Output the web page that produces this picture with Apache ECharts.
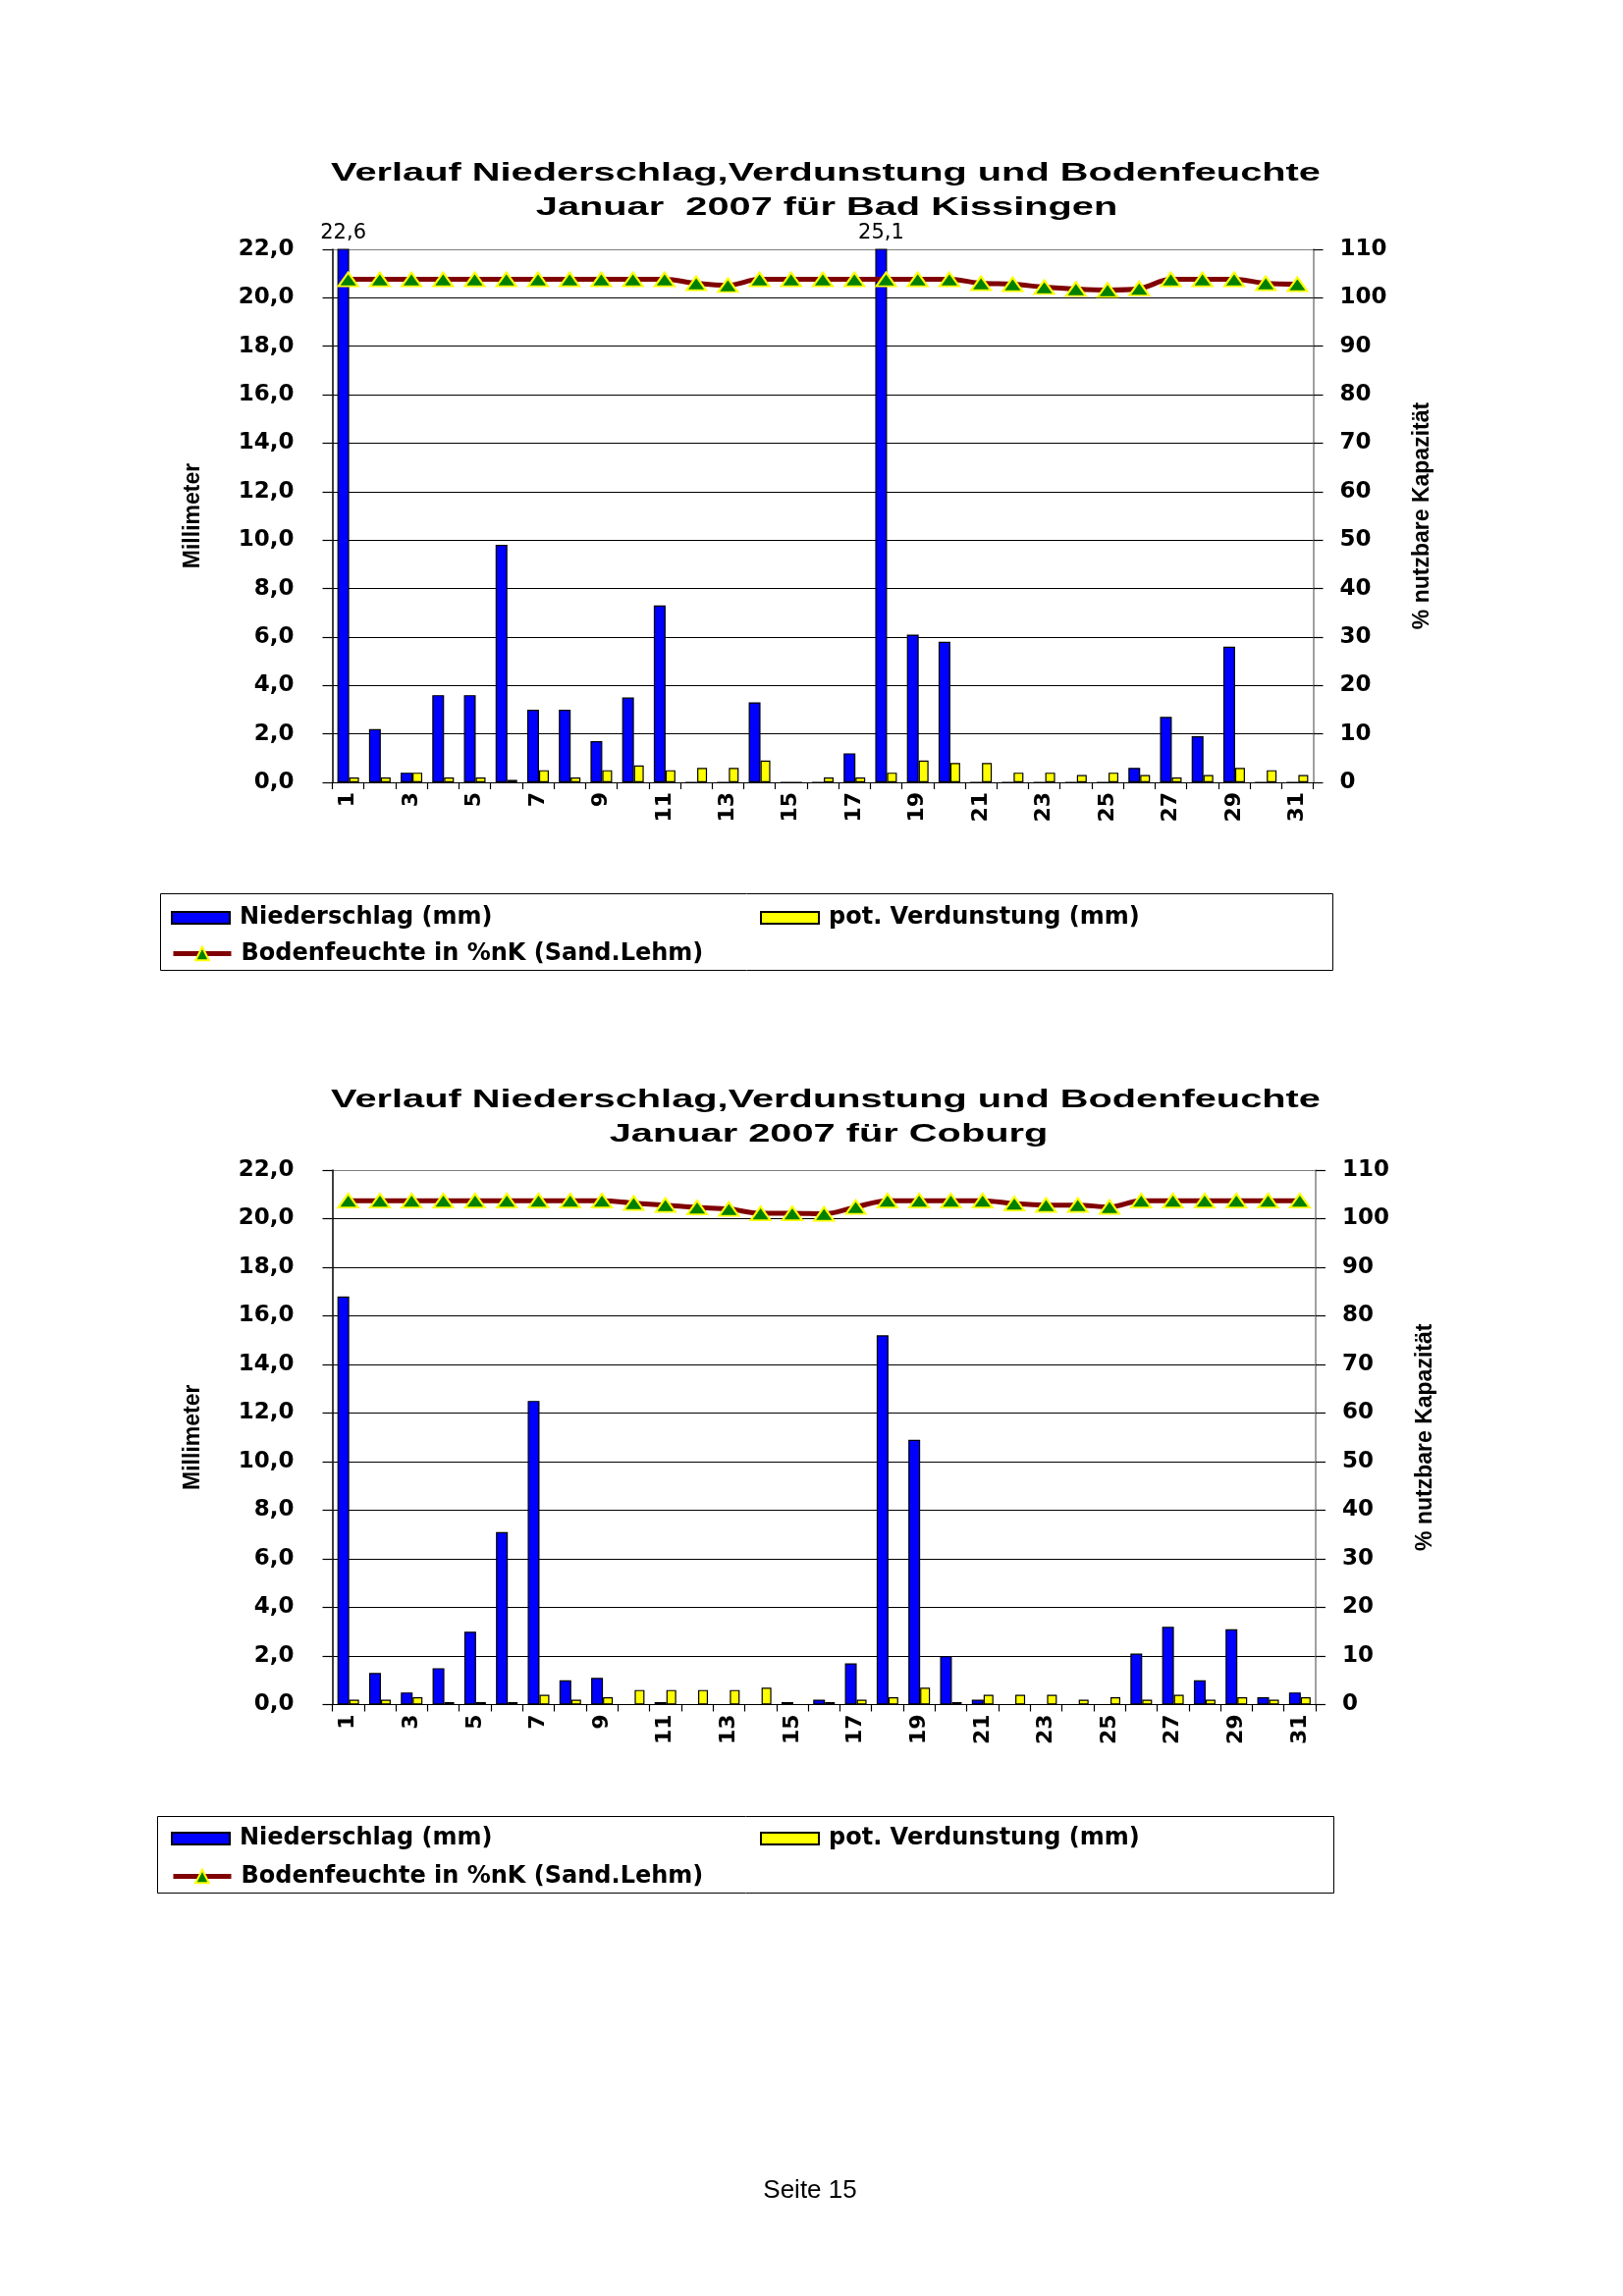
<!DOCTYPE html>
<html>
<head>
<meta charset="utf-8">
<script src="https://cdn.jsdelivr.net/npm/echarts@6/dist/echarts.min.js"></script>
<style>
html,body{margin:0;padding:0;background:#fff;}
#chart{width:1653px;height:2339px;}
</style>
</head>
<body>
<div id="chart"></div>
<script>
// ---- data ----
const days = ['1','2','3','4','5','6','7','8','9','10','11','12','13','14','15','16','17','18','19','20','21','22','23','24','25','26','27','28','29','30','31'];

const kissRain = [22.6,2.2,0.4,3.6,3.6,9.8,3.0,3.0,1.7,3.5,7.3,0,0,3.3,0,0,1.2,25.1,6.1,5.8,0,0,0,0,0,0.6,2.7,1.9,5.6,0,0];
const kissEvap = [0.2,0.2,0.4,0.2,0.2,0.1,0.5,0.2,0.5,0.7,0.5,0.6,0.6,0.9,0,0.2,0.2,0.4,0.9,0.8,0.8,0.4,0.4,0.3,0.4,0.3,0.2,0.3,0.6,0.5,0.3];
const kissSoil = [103.8,103.8,103.8,103.8,103.8,103.8,103.8,103.8,103.8,103.8,103.8,103.0,102.6,103.8,103.8,103.8,103.8,103.8,103.8,103.8,103.0,102.8,102.2,101.8,101.6,101.9,103.8,103.8,103.8,103.0,102.8];

const cobRain = [16.8,1.3,0.5,1.5,3.0,7.1,12.5,1.0,1.1,0,0.1,0,0,0,0.1,0.2,1.7,15.2,10.9,2.0,0.2,0,0,0,0,2.1,3.2,1.0,3.1,0.3,0.5];
const cobEvap = [0.2,0.2,0.3,0.1,0.1,0.1,0.4,0.2,0.3,0.6,0.6,0.6,0.6,0.7,0,0.1,0.2,0.3,0.7,0.1,0.4,0.4,0.4,0.2,0.3,0.2,0.4,0.2,0.3,0.2,0.3];
const cobSoil = [103.7,103.7,103.7,103.7,103.7,103.7,103.7,103.7,103.7,103.2,102.8,102.3,102.0,101.1,101.1,101.0,102.4,103.7,103.7,103.7,103.7,103.1,102.8,102.8,102.4,103.7,103.7,103.7,103.7,103.7,103.7];

const titlesKiss = ['Verlauf Niederschlag,Verdunstung und Bodenfeuchte', 'Januar  2007 für Bad Kissingen'];
const titlesCob  = ['Verlauf Niederschlag,Verdunstung und Bodenfeuchte', 'Januar 2007 für Coburg'];
const seriesNames = ['Niederschlag (mm)', 'pot. Verdunstung (mm)', 'Bodenfeuchte in %nK (Sand.Lehm)'];
const leftAxisName = 'Millimeter';
const rightAxisName = '% nutzbare Kapazität';
const pageLabel = 'Seite 15';

const MM_MIN = 0, MM_MAX = 22, MM_STEP = 2;
const PCT_MIN = 0, PCT_MAX = 110, PCT_STEP = 10;

// ---- helpers ----
const fmt1 = v => Number(v).toFixed(1).replace('.', ',');
const WIDE = 'DejaVu Sans';
const ARIAL = 'Liberation Sans';

function panel(i, grid, rain, evap, soil) {
  const xIdx = i, yL = i * 2, yR = i * 2 + 1;
  const nLines = (MM_MAX - MM_MIN) / MM_STEP;
  const gridLines = [];
  for (let k = 0; k <= nLines; k++) gridLines.push(k === nLines ? '#808080' : '#000000');
  return {
    grid: grid,
    xAxis: {
      type: 'category', gridIndex: i, data: days, boundaryGap: true,
      axisLine: { show: true, lineStyle: { color: '#000', width: 1.2 } },
      axisTick: { show: true, interval: 0, length: 7, lineStyle: { color: '#000', width: 1.2 } },
      axisLabel: { interval: 1, rotate: 90, margin: 10, color: '#000', padding: [0, 0, 10, 0],
        fontFamily: WIDE, fontWeight: 'bold', fontSize: 22 },
      splitLine: { show: false }
    },
    yAxis: [{
      type: 'value', gridIndex: i, position: 'left', min: MM_MIN, max: MM_MAX, interval: MM_STEP,
      name: leftAxisName, nameLocation: 'middle', nameRotate: 90, nameGap: 130,
      nameTextStyle: { fontFamily: ARIAL, fontWeight: 'bold', fontSize: 23, color: '#000' },
      axisLine: { show: true, lineStyle: { color: '#000', width: 1.5 } },
      axisTick: { show: true, length: 10, lineStyle: { color: '#000', width: 1.2 } },
      axisLabel: { formatter: v => fmt1(v), margin: 39, color: '#000',
        fontFamily: WIDE, fontWeight: 'bold', fontSize: 23 },
      splitLine: { show: true, lineStyle: { color: gridLines, width: 1.2 } }
    }, {
      type: 'value', gridIndex: i, position: 'right', min: PCT_MIN, max: PCT_MAX, interval: PCT_STEP,
      name: rightAxisName, nameLocation: 'middle', nameRotate: 90, nameGap: 100,
      nameTextStyle: { fontFamily: ARIAL, fontWeight: 'bold', fontSize: 23, color: '#000' },
      axisLine: { show: true, lineStyle: { color: '#808080', width: 1.5 } },
      axisTick: { show: true, length: 10, lineStyle: { color: '#000', width: 1.2 } },
      axisLabel: { formatter: v => String(v), margin: 27, color: '#000',
        fontFamily: WIDE, fontWeight: 'bold', fontSize: 23 },
      splitLine: { show: false }
    }],
    series: [{
      name: seriesNames[0], type: 'bar', xAxisIndex: xIdx, yAxisIndex: yL,
      data: rain.map(v => v > MM_MAX ? { value: v, label: { show: true } } : v),
      barWidth: 12, barGap: '0%', clip: true,
      itemStyle: { color: '#0000ff', borderColor: '#000', borderWidth: 1.2 },
      label: { show: false, position: 'top', distance: 5, formatter: p => fmt1(p.value),
        fontFamily: WIDE, fontSize: 21, color: '#000' },
      z: 2
    }, {
      name: seriesNames[1], type: 'bar', xAxisIndex: xIdx, yAxisIndex: yL,
      data: evap, barWidth: 10, barGap: '0%',
      itemStyle: { color: '#ffff00', borderColor: '#000', borderWidth: 1.2 },
      z: 2
    }, {
      name: seriesNames[2], type: 'line', xAxisIndex: xIdx, yAxisIndex: yR,
      data: soil, smooth: 0.35, symbol: 'triangle', symbolSize: [20, 14],
      lineStyle: { color: '#800000', width: 5 },
      itemStyle: { color: '#008000', borderColor: '#ffff00', borderWidth: 2 },
      z: 5
    }]
  };
}

const p1 = panel(0, { left: 338.5, top: 254, width: 999, height: 543 }, kissRain, kissEvap, kissSoil);
const p2 = panel(1, { left: 338.5, top: 1192, width: 1001.5, height: 544.5 }, cobRain, cobEvap, cobSoil);

const TITLE_FONT = 'bold 26px "Liberation Sans"';
const TITLE_SCALE = 1.53;
function titleText(txt, cx, cy) {
  return { type: 'text', x: cx, y: cy, scaleX: TITLE_SCALE, z: 10,
    style: { text: txt, x: 0, y: 0, font: TITLE_FONT, fill: '#000',
      align: 'center', verticalAlign: 'middle', textAlign: 'center', textVerticalAlign: 'middle' } };
}
function legendBox(x, y, w, h) {
  return { type: 'rect', z: -1, shape: { x: x, y: y, width: w, height: h },
    style: { fill: '#fff', stroke: '#000', lineWidth: 1 } };
}
function legends(row1Top, row2Top) {
  const common = { orient: 'vertical', itemWidth: 59, itemHeight: 12, padding: 0,
    selectedMode: false,
    textStyle: { fontFamily: WIDE, fontWeight: 'bold', fontSize: 24, color: '#000', padding: [0, 0, 0, 5] } };
  return [
    Object.assign({}, common, { left: 174, top: row1Top, data: [{ name: seriesNames[0], icon: 'rect' }] }),
    Object.assign({}, common, { left: 774, top: row1Top, data: [{ name: seriesNames[1], icon: 'rect' }] }),
    Object.assign({}, common, { left: 174, top: row2Top, itemHeight: 17,
      data: [{ name: seriesNames[2], lineStyle: { width: 5, color: '#800000' } }] })
  ];
}

const option = {
  animation: false,
  backgroundColor: '#ffffff',
  grid: [p1.grid, p2.grid],
  xAxis: [p1.xAxis, p2.xAxis],
  yAxis: p1.yAxis.concat(p2.yAxis),
  series: p1.series.concat(p2.series),
  legend: legends(923, 959.5).concat(legends(1861, 1899.5)),
  graphic: [
    titleText(titlesKiss[0], 841, 177),
    titleText(titlesKiss[1], 842, 212),
    titleText(titlesCob[0], 841, 1121),
    titleText(titlesCob[1], 844, 1156),
    legendBox(163.5, 910.5, 1194, 78),
    legendBox(160.5, 1850.5, 1198, 78),
    { type: 'text', x: 825, y: 2232, z: 10,
      style: { text: pageLabel, x: 0, y: 0, font: '26px "Liberation Sans"', fill: '#000',
        align: 'center', verticalAlign: 'middle', textAlign: 'center', textVerticalAlign: 'middle' } }
  ]
};

const chart = echarts.init(document.getElementById('chart'), null, { renderer: 'canvas' });
chart.setOption(option);
</script>
</body>
</html>
